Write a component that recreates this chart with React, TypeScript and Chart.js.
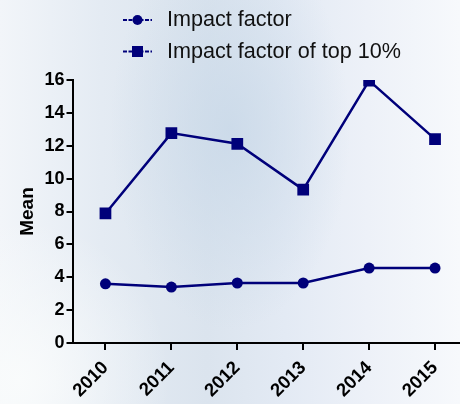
import React, { useEffect, useRef } from "react";
import { Chart, registerables } from "chart.js";

Chart.register(...registerables);

const years = ["2010", "2011", "2012", "2013", "2014", "2015"];
const impactFactor = [3.6, 3.4, 3.65, 3.65, 4.56, 4.56];
const impactFactorTop10 = [7.88, 12.77, 12.12, 9.33, 15.96, 12.4];
const seriesNames = ["Impact factor", "Impact factor of top 10%"];
const yTicks = [0, 16, 2];

const NAVY = "#00007a";
const FONT = "'Liberation Sans', Arial, sans-serif";

const legendPlugin = {
  id: "customLegend",
  afterDraw(chart: any) {
    const ctx = chart.ctx;
    ctx.save();
    const rows = [
      { y: 20, style: "circle", label: seriesNames[0] },
      { y: 51.5, style: "rect", label: seriesNames[1] },
    ];
    rows.forEach((r) => {
      ctx.strokeStyle = NAVY;
      ctx.fillStyle = NAVY;
      ctx.lineWidth = 2;
      ctx.setLineDash([4, 1.5]);
      ctx.beginPath();
      ctx.moveTo(123, r.y);
      ctx.lineTo(152, r.y);
      ctx.stroke();
      ctx.setLineDash([]);
      if (r.style === "circle") {
        ctx.beginPath();
        ctx.arc(137.5, r.y, 5, 0, Math.PI * 2);
        ctx.fill();
      } else {
        ctx.fillRect(132, r.y - 5.5, 11, 11);
      }
      ctx.fillStyle = "#111";
      ctx.font = `21.6px ${FONT}`;
      ctx.textBaseline = "middle";
      ctx.textAlign = "left";
      ctx.fillText(r.label, 167, r.y + 0.5);
    });
    ctx.restore();
  },
};

export default function App() {
  const ref = useRef<HTMLCanvasElement | null>(null);

  useEffect(() => {
    if (!ref.current) return;
    const tickFont = { family: FONT, weight: "bold" as const, size: 18 };
    const chart = new Chart(ref.current, {
      type: "line",
      data: {
        labels: years,
        datasets: [
          {
            label: seriesNames[0],
            data: impactFactor,
            borderColor: NAVY,
            backgroundColor: NAVY,
            borderWidth: 2.5,
            pointStyle: "circle",
            pointRadius: 5.5,
            pointBorderWidth: 0,
            tension: 0,
          },
          {
            label: seriesNames[1],
            data: impactFactorTop10,
            borderColor: NAVY,
            backgroundColor: NAVY,
            borderWidth: 2.5,
            pointStyle: "rect",
            pointRadius: 8.3,
            pointBorderWidth: 0,
            tension: 0,
          },
        ],
      },
      options: {
        animation: false,
        responsive: false,
        devicePixelRatio: 1,
        layout: { padding: { top: 80, right: 12, left: 0, bottom: 0 } },
        plugins: { legend: { display: false }, tooltip: { enabled: false } },
        scales: {
          x: {
            type: "category",
            offset: true,
            grid: {
              display: true,
              drawOnChartArea: false,
              drawTicks: true,
              tickLength: 7,
              color: "#000",
              lineWidth: 2,
            },
            border: { display: true, color: "#000", width: 2 },
            ticks: {
              color: "#000",
              font: { family: FONT, weight: "bold" as const, size: 18.5 },
              maxRotation: 45,
              minRotation: 45,
              autoSkip: false,
              padding: 7,
            },
            afterFit: (s: any) => {
              s.height = 61;
            },
          },
          y: {
            min: yTicks[0],
            max: yTicks[1],
            ticks: { stepSize: yTicks[2], color: "#000", font: tickFont, padding: 2 },
            grid: {
              display: true,
              drawOnChartArea: false,
              drawTicks: true,
              tickLength: 6,
              color: "#000",
              lineWidth: 2,
            },
            border: { display: true, color: "#000", width: 2 },
            title: {
              display: true,
              text: "Mean",
              color: "#000",
              font: { family: FONT, weight: "bold", size: 19 },
              padding: { top: 16, bottom: 0 },
            },
            afterFit: (s: any) => {
              s.width = 72.5;
            },
          },
        },
      },
      plugins: [legendPlugin],
    });
    return () => chart.destroy();
  }, []);

  return (
    <div
      style={{
        position: "fixed",
        left: 0,
        top: 0,
        width: 460,
        height: 404,
        overflow: "hidden",
        background:
          "radial-gradient(ellipse 120px 200px at 230px 130px, rgba(200,216,232,0.8), rgba(200,216,232,0) 100%), radial-gradient(ellipse 150px 160px at 20px 380px, rgba(250,252,252,0.9), rgba(250,252,252,0) 100%), linear-gradient(90deg, #f2f5f9 0%, #e4ebf3 22%, #dbe4ee 45%, #e3eaf4 62%, #edf1f8 80%, #f7f9fc 100%)",
      }}
    >
      <canvas ref={ref} width={480} height={404} style={{ display: "block", width: 480, height: 404 }} />
    </div>
  );
}
